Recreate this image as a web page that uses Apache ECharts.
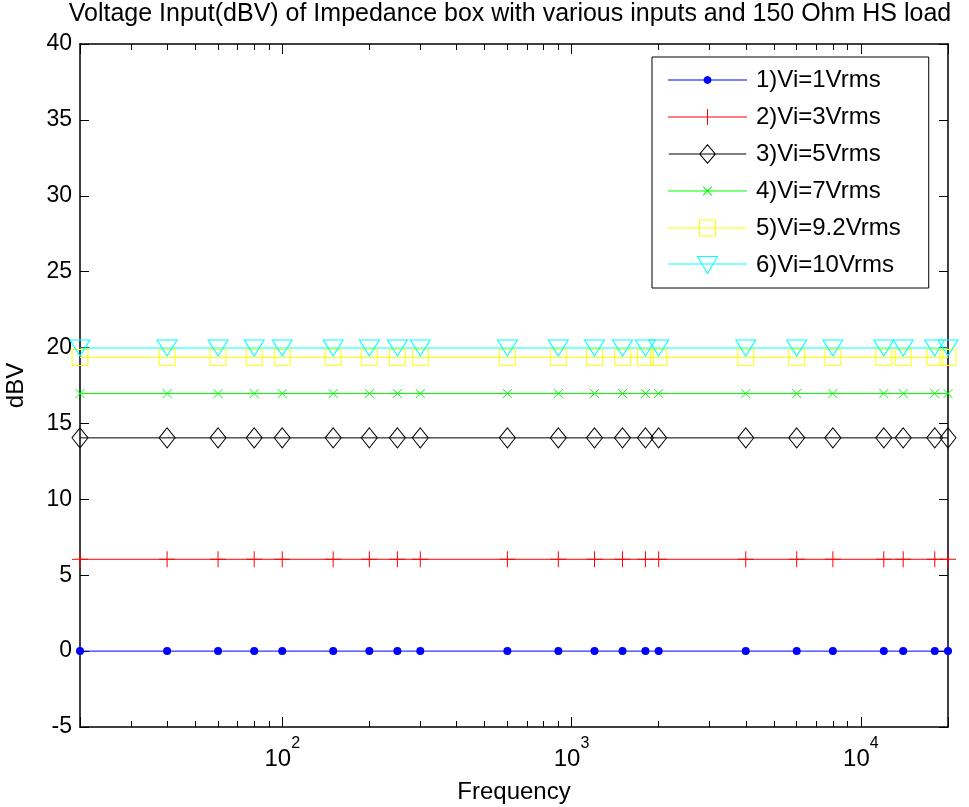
<!DOCTYPE html>
<html><head><meta charset="utf-8">
<script src="https://cdn.jsdelivr.net/npm/echarts@6/dist/echarts.min.js"></script>
<style>html,body{margin:0;padding:0;background:#fff}#c{width:969px;height:807px}</style>
</head><body><div id="c"></div>
<script>
// ---------------- data ----------------
const titleText = 'Voltage Input(dBV) of Impedance box with various inputs and 150 Ohm HS load';
const xName = 'Frequency';
const yName = 'dBV';
const frequencies = [20, 40, 60, 80, 100, 150, 200, 250, 300, 600, 900, 1200, 1500, 1800, 2000, 4000, 6000, 8000, 12000, 14000, 18000, 20000];
const seriesNames = ['1)Vi=1Vrms', '2)Vi=3Vrms', '3)Vi=5Vrms', '4)Vi=7Vrms', '5)Vi=9.2Vrms', '6)Vi=10Vrms'];
const vi1 = [0, 0, 0, 0, 0, 0, 0, 0, 0, 0, 0, 0, 0, 0, 0, 0, 0, 0, 0, 0, 0, 0];
const vi3 = [6.05, 6.05, 6.05, 6.05, 6.05, 6.05, 6.05, 6.05, 6.05, 6.05, 6.05, 6.05, 6.05, 6.05, 6.05, 6.05, 6.05, 6.05, 6.05, 6.05, 6.05, 6.05];
const vi5 = [14.05, 14.05, 14.05, 14.05, 14.05, 14.05, 14.05, 14.05, 14.05, 14.05, 14.05, 14.05, 14.05, 14.05, 14.05, 14.05, 14.05, 14.05, 14.05, 14.05, 14.05, 14.05];
const vi7 = [16.97, 16.97, 16.97, 16.97, 16.97, 16.97, 16.97, 16.97, 16.97, 16.97, 16.97, 16.97, 16.97, 16.97, 16.97, 16.97, 16.97, 16.97, 16.97, 16.97, 16.97, 16.97];
const vi92 = [19.35, 19.35, 19.35, 19.35, 19.35, 19.35, 19.35, 19.35, 19.35, 19.35, 19.35, 19.35, 19.35, 19.35, 19.35, 19.35, 19.35, 19.35, 19.35, 19.35, 19.35, 19.35];
const vi10 = [19.97, 19.97, 19.97, 19.97, 19.97, 19.97, 19.97, 19.97, 19.97, 19.97, 19.97, 19.97, 19.97, 19.97, 19.97, 19.97, 19.97, 19.97, 19.97, 19.97, 19.97, 19.97];
const xMin = 20, xMax = 20000;
const yMin = -5, yMax = 40, yStep = 5;
const xMinorTicks = [30, 40, 50, 60, 70, 80, 90, 200, 300, 400, 500, 600, 700, 800, 900, 2000, 3000, 4000, 5000, 6000, 7000, 8000, 9000];

// ---------------- styling helpers ----------------
const FONT = 'Liberation Sans, Arial, Helvetica, sans-serif';
function pairs(ys) { return frequencies.map((f, i) => [f, ys[i]]); }
function seg(x1, y1, x2, y2, t, ext) {
  const dx = x2 - x1, dy = y2 - y1, L = Math.hypot(dx, dy);
  const ux = dx / L, uy = dy / L;
  if (ext) { x1 -= ux * t / 2; y1 -= uy * t / 2; x2 += ux * t / 2; y2 += uy * t / 2; }
  const nx = -uy * t / 2, ny = ux * t / 2;
  const f = v => v.toFixed(3);
  return 'M' + f(x1 + nx) + ',' + f(y1 + ny) + 'L' + f(x2 + nx) + ',' + f(y2 + ny) +
    'L' + f(x2 - nx) + ',' + f(y2 - ny) + 'L' + f(x1 - nx) + ',' + f(y1 - ny) + 'Z';
}
function outline(pts) {
  let s = '';
  for (let i = 0; i < pts.length; i++) {
    const a = pts[i], b = pts[(i + 1) % pts.length];
    s += seg(a[0], a[1], b[0], b[1], 1, true);
  }
  return s;
}
function legendIcon(kind) {
  const W = 79, c = 10, m = 39.5;
  let p = seg(0, c, W, c, 1, false);
  if (kind === 'circle') {
    const r = 3.9, N = 28;
    let s = '';
    for (let k = 0; k < N; k++) {
      const a = -2 * Math.PI * k / N;
      s += (k ? 'L' : 'M') + (m + r * Math.cos(a)).toFixed(3) + ',' + (c + r * Math.sin(a)).toFixed(3);
    }
    p += s + 'Z';
  } else if (kind === 'plus') {
    p += seg(m, c - 8, m, c + 8, 1, false) + seg(m - 8, c, m + 8, c, 1, false);
  } else if (kind === 'diamond') {
    p += outline([[m, c - 9.5], [m + 8, c], [m, c + 9.5], [m - 8, c]]);
  } else if (kind === 'x') {
    p += seg(m - 4.3, c - 4.3, m + 4.3, c + 4.3, 1, false) + seg(m - 4.3, c + 4.3, m + 4.3, c - 4.3, 1, false);
  } else if (kind === 'square') {
    p += outline([[m - 8, c - 8], [m + 8, c - 8], [m + 8, c + 8], [m - 8, c + 8]]);
  } else if (kind === 'tri') {
    p += outline([[m - 10, c - 7.4], [m + 10, c - 7.4], [m, c + 9.6]]);
  }
  return 'path://' + p;
}
const CLEAR = 'rgba(0,0,0,0)';
const styles = [
  { color: '#0000ff', symbol: 'circle', size: 8, fill: '#0000ff', icon: 'circle' },
  { color: '#ff0000', symbol: 'path://M0,-1L0,1M-1,0L1,0', size: 16, fill: CLEAR, icon: 'plus' },
  { color: '#000000', symbol: 'path://M0,-1L1,0L0,1L-1,0Z', size: [16, 20], fill: CLEAR, icon: 'diamond' },
  { color: '#00ff00', symbol: 'path://M-1,-1L1,1M-1,1L1,-1', size: 9, fill: CLEAR, icon: 'x' },
  { color: '#ffff00', symbol: 'path://M-1,-1L1,-1L1,1L-1,1Z', size: 16, fill: CLEAR, icon: 'square' },
  { color: '#00ffff', symbol: 'path://M-1,-1L1,-1L0,1Z', size: [20, 16], fill: CLEAR, icon: 'tri' }
];
const allValues = [vi1, vi3, vi5, vi7, vi92, vi10];

const series = seriesNames.map((name, i) => ({
  name: name,
  type: 'line',
  xAxisIndex: 0,
  yAxisIndex: 0,
  data: pairs(allValues[i]),
  symbol: styles[i].symbol,
  symbolSize: styles[i].size,
  showAllSymbol: true,
  lineStyle: { color: styles[i].color, width: 1 },
  itemStyle: { color: styles[i].fill, borderColor: styles[i].color, borderWidth: styles[i].fill === CLEAR ? 1 : 0 },
  emphasis: { disabled: true },
  silent: true
}));

const isPow10 = v => { const e = Math.log10(v), r = Math.round(e); return Math.abs(e - r) < 1e-6 ? r : null; };
const axisLineStyle = { color: '#000', width: 1.5 };
const logMin = Math.log10(xMin), logMax = Math.log10(xMax);
const minorLog = xMinorTicks.map(v => Math.log10(v));

const option = {
  animation: false,
  backgroundColor: '#fff',
  textStyle: { fontFamily: FONT },
  title: {
    text: titleText,
    left: 510, top: 2, textAlign: 'center', padding: 0,
    textStyle: { fontFamily: FONT, fontSize: 25, fontWeight: 'normal', color: '#000' }
  },
  grid: { left: 80, right: 21, top: 44, bottom: 80, containLabel: false, outerBoundsMode: 'none' },
  legend: {
    orient: 'vertical',
    left: 652, top: 57,
    padding: [11, 28, 11, 16],
    itemWidth: 79, itemHeight: 20, itemGap: 13,
    borderColor: '#000', borderWidth: 1, backgroundColor: '#fff',
    selectedMode: false,
    itemStyle: { borderWidth: 0 },
    textStyle: { fontFamily: FONT, fontSize: 24, color: '#000', padding: [0, 0, 0, 4] },
    data: seriesNames.map((n, i) => ({ name: n, icon: legendIcon(styles[i].icon), itemStyle: { color: styles[i].color, borderWidth: 0 } }))
  },
  xAxis: [
    {
      type: 'log', logBase: 10, min: xMin, max: xMax, position: 'bottom',
      name: xName, nameLocation: 'middle', nameGap: 53,
      nameTextStyle: { fontFamily: FONT, fontSize: 24, color: '#000' },
      axisLine: { show: true, onZero: false, lineStyle: axisLineStyle },
      axisTick: { show: true, inside: true, length: 10, lineStyle: { color: '#000', width: 1 } },
      minorTick: { show: false },
      splitLine: { show: false },
      axisLabel: {
        show: true, margin: 9, color: '#000', fontFamily: FONT,
        formatter: v => { const r = isPow10(v); return r !== null ? '{b|10}{s|' + r + '}' : ''; },
        rich: {
          b: { fontFamily: FONT, fontSize: 24, lineHeight: 35, verticalAlign: 'bottom', color: '#000' },
          s: { fontFamily: FONT, fontSize: 16, lineHeight: 16, verticalAlign: 'top', color: '#000' }
        }
      }
    },
    {
      type: 'value', min: logMin, max: logMax, position: 'bottom',
      axisLine: { show: false, onZero: false },
      axisTick: { show: true, inside: true, length: 6, customValues: minorLog, lineStyle: { color: '#000', width: 1 } },
      axisLabel: { show: false }, splitLine: { show: false }
    },
    {
      type: 'log', logBase: 10, min: xMin, max: xMax, position: 'top',
      axisLine: { show: true, onZero: false, lineStyle: axisLineStyle },
      axisTick: { show: true, inside: true, length: 10, lineStyle: { color: '#000', width: 1 } },
      axisLabel: { show: false }, splitLine: { show: false }
    },
    {
      type: 'value', min: logMin, max: logMax, position: 'top',
      axisLine: { show: false, onZero: false },
      axisTick: { show: true, inside: true, length: 6, customValues: minorLog, lineStyle: { color: '#000', width: 1 } },
      axisLabel: { show: false }, splitLine: { show: false }
    }
  ],
  yAxis: [
    {
      type: 'value', min: yMin, max: yMax, interval: yStep, position: 'left',
      name: yName, nameLocation: 'middle', nameGap: 52,
      nameTextStyle: { fontFamily: FONT, fontSize: 24, color: '#000' },
      axisLine: { show: true, onZero: false, lineStyle: axisLineStyle },
      axisTick: { show: true, inside: true, length: 9, lineStyle: { color: '#000', width: 1 } },
      axisLabel: { show: true, margin: 8, color: '#000', fontFamily: FONT, fontSize: 23 },
      splitLine: { show: false }
    },
    {
      type: 'value', min: yMin, max: yMax, interval: yStep, position: 'right',
      axisLine: { show: true, onZero: false, lineStyle: axisLineStyle },
      axisTick: { show: true, inside: true, length: 9, lineStyle: { color: '#000', width: 1 } },
      axisLabel: { show: false }, splitLine: { show: false }
    }
  ],
  series: series
};

const chart = echarts.init(document.getElementById('c'), null, { renderer: 'canvas' });
chart.setOption(option);
</script>
</body></html>
